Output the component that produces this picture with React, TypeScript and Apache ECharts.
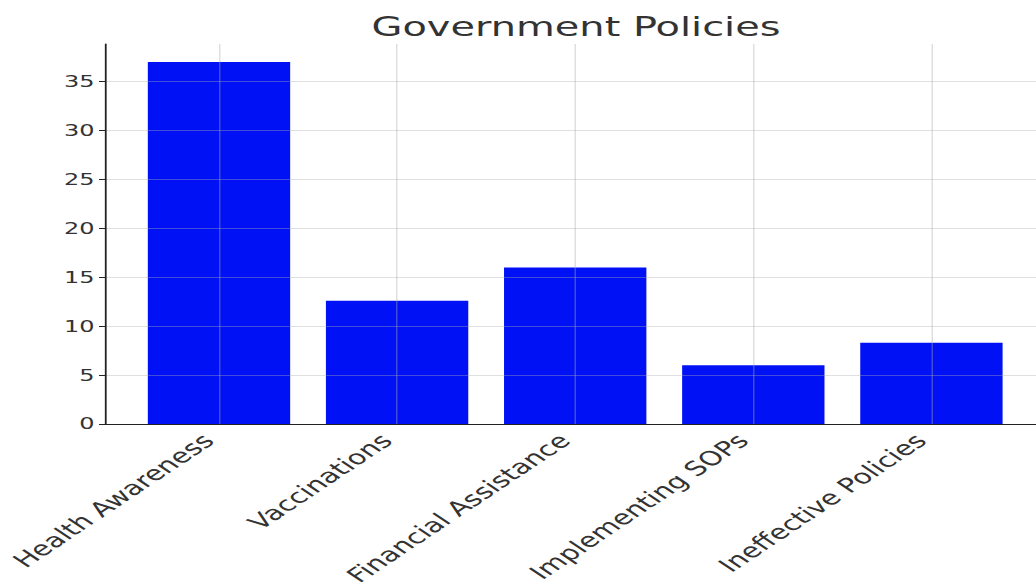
import React, { useEffect, useRef } from 'react';
import * as echarts from 'echarts';

const chartTitle = 'Government Policies';
const categories = [
  'Health Awareness',
  'Vaccinations',
  'Financial Assistance',
  'Implementing SOPs',
  'Ineffective Policies',
];
const values = [37, 12.6, 16, 6, 8.3];
const categoryPositions = [0, 1, 2, 3, 4];
const yTicks = [0, 5, 10, 15, 20, 25, 30, 35];

const STRETCH = 1.5;
const INNER_W = 1036 / STRETCH;
const H = 588;

export default function App() {
  const ref = useRef<HTMLDivElement>(null);
  useEffect(() => {
    if (!ref.current) return;
    const chart = echarts.init(ref.current, null, { renderer: 'svg' });
    const font = 'DejaVu Sans';
    chart.setOption({
      animation: false,
      backgroundColor: '#ffffff',
      title: {
        text: chartTitle,
        left: 379,
        top: 8,
        textAlign: 'center',
        textStyle: { fontFamily: font, fontSize: 26.6, fontWeight: 'normal', color: '#333333' },
      },
      grid: { left: 70, top: 44, right: 0, height: 382, containLabel: false },
      xAxis: {
        type: 'value',
        min: -0.64,
        max: 4.59,
        z: 3,
        axisLine: { show: true, onZero: false, lineStyle: { color: '#222222', width: 1.2 } },
        axisTick: { show: false, customValues: categoryPositions },
        axisLabel: {
          customValues: categoryPositions,
          formatter: (v: number) => categories[Math.round(v)] ?? '',
          rotate: 45,
          margin: 6,
          padding: [0, 10, 0, 0],
          fontFamily: font,
          fontSize: 20,
          color: '#333333',
        },
        splitLine: { show: true, lineStyle: { color: 'rgba(170,170,170,0.38)', width: 1 } },
      },
      yAxis: {
        type: 'value',
        min: 0,
        max: 38.85,
        z: 3,
        axisLine: { show: true, onZero: false, lineStyle: { color: '#222222', width: 1.2 } },
        axisTick: { show: true, length: 4, customValues: yTicks, lineStyle: { color: '#222222' } },
        axisLabel: {
          customValues: yTicks,
          margin: 7,
          fontFamily: font,
          fontSize: 16,
          color: '#333333',
        },
        splitLine: { show: true, lineStyle: { color: 'rgba(170,170,170,0.38)', width: 1 } },
      },
      series: [
        {
          type: 'bar',
          data: categoryPositions.map((x, i) => [x, values[i]]),
          barWidth: 94.9,
          itemStyle: { color: '#0012f5' },
          z: 2,
        },
      ],
    });
    return () => chart.dispose();
  }, []);
  return (
    <div
      style={{
        position: 'absolute',
        left: 0,
        top: 0,
        width: 1036,
        height: H,
        overflow: 'hidden',
        background: '#ffffff',
      }}
    >
      <div
        ref={ref}
        style={{
          width: INNER_W,
          height: H,
          transform: `scaleX(${STRETCH})`,
          transformOrigin: '0 0',
        }}
      />
    </div>
  );
}
